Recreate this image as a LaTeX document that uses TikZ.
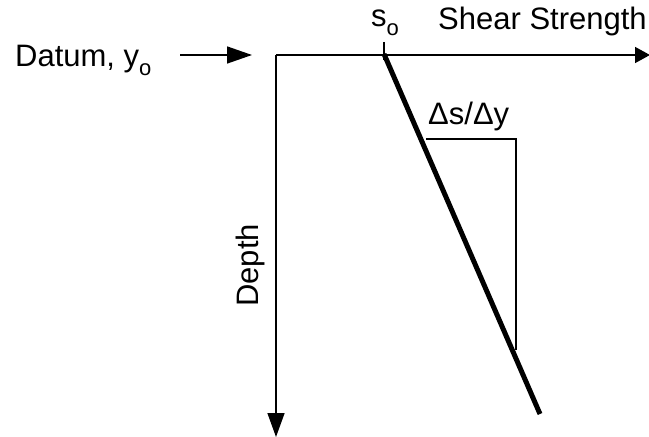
\documentclass[tikz,border=0pt]{standalone}
\usepackage{fontspec}
\setmainfont{Liberation Sans}
\usetikzlibrary{arrows.meta}
\begin{document}
\begin{tikzpicture}[x=1bp,y=-1bp,
  lbl/.style={inner sep=0pt, anchor=base west, font=\fontsize{31bp}{36bp}\selectfont},
  axis/.style={line width=1.5bp},
  bigtip/.style={-{Triangle[length=24bp,width=17bp]}}]
\useasboundingbox (0,0) rectangle (649,437);
\coordinate (corner) at (276,55);
\coordinate (xend) at (650,55);
\coordinate (yend) at (276,437);
\coordinate (dstart) at (180,55);
\coordinate (dend) at (252,55);
\coordinate (s0) at (384,54);
\coordinate (lend) at (540,414);
\coordinate (tickt) at (384,42);
\coordinate (tickb) at (384,60);
\coordinate (boxl) at (426,139);
\coordinate (boxr) at (516,139);
\coordinate (boxb) at (516,350);
% axes
\draw[axis,-{Triangle[length=15bp,width=16bp]}] (corner) -- (xend);
\draw[axis,bigtip] (corner) -- (yend);
\draw[axis,-{Triangle[length=25bp,width=17bp]}] (dstart) -- (dend);
% tick
\draw[line width=1.2bp] (tickt) -- (tickb);
% thick line
\draw[line width=5bp] (s0) -- (lend);
% slope box
\draw[line width=1.3bp] (boxl) -- (boxr) -- (boxb);
% labels
\node[lbl] (datum) at (15,67) {Datum, y\raisebox{-9bp}{\fontsize{22bp}{22bp}\selectfont o}};
\node[lbl] (so) at (371,27) {s\raisebox{-9bp}{\fontsize{22bp}{22bp}\selectfont o}};
\node[lbl] (shear) at (438,29.5) {Shear Strength};
\node[lbl] (slope) at (428,125) {Δs/Δy};
\node[lbl, rotate=90] (depth) at (258,307) {Depth};
\end{tikzpicture}
\end{document}
